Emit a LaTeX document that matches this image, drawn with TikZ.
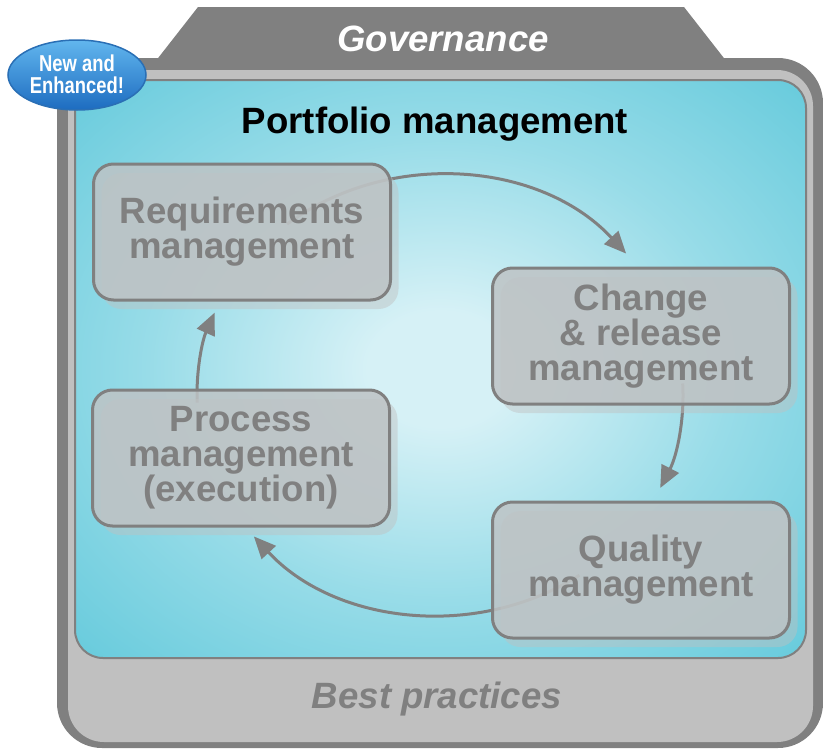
\documentclass[tikz,border=0pt]{standalone}
\usepackage{fontspec}
\setmainfont{Liberation Sans}
\usetikzlibrary{calc,arrows.meta,shadows}
\definecolor{dgray}{HTML}{808080}
\definecolor{lgray}{HTML}{C0C0C0}
\definecolor{pcen}{HTML}{D6F1F6}
\definecolor{pmid}{HTML}{98DCE8}
\definecolor{pedge}{HTML}{62C9DB}
\definecolor{boxfill}{HTML}{BEC3C5}
\definecolor{badgetop}{HTML}{62B6EE}
\definecolor{badgebot}{HTML}{1D6CC0}
\definecolor{badgeline}{HTML}{2A6FB5}
\pgfdeclareradialshading{panelshade}{\pgfpoint{0bp}{0bp}}{color(0bp)=(pcen); color(5bp)=(pcen); color(20bp)=(pmid); color(37bp)=(pedge); color(50bp)=(pedge)}
\tikzset{
  mbox/.style={rectangle, rounded corners=20pt, minimum width=297pt, minimum height=136pt,
    draw=dgray, line width=3pt, fill=boxfill, fill opacity=0.85, text opacity=1,
    text=dgray, align=center, font=\bfseries\fontsize{36.6}{35}\selectfont,
    drop shadow={shadow xshift=8pt, shadow yshift=-9pt, fill=lgray, opacity=0.45}},
  cycarrow/.style={draw=dgray, line width=3pt, -{Triangle[length=22pt,width=19pt]}},
  bigtext/.style={font=\bfseries\itshape\fontsize{36.6}{36}\selectfont}
}
\begin{document}
\begin{tikzpicture}[x=1pt,y=-1pt]
\useasboundingbox (0,0) rectangle (823,750);
% outer frame
\fill[dgray] (155,62) -- (198,7) -- (684,7) -- (727,62) -- cycle;
\fill[dgray, rounded corners=45pt] (57,58) rectangle (823,748);
\fill[lgray, rounded corners=36pt] (68,70) rectangle (813,742);
% blue panel
\shade[shading=panelshade, rounded corners=28pt] (75,80) rectangle (806,658);
\draw[dgray, line width=2pt, rounded corners=28pt] (75,80) rectangle (806,658);
\node[bigtext, text=white] (gov) at (443,39) {Governance};
\node[bigtext, text=dgray] (best) at (437,699) {Best practices};
\node[font=\bfseries\fontsize{36.6}{36}\selectfont, text=black] (port) at (435,124) {Portfolio management};
% cycle arcs
\coordinate (cyc) at (440,395);
\coordinate (a1) at ($(cyc)+(-129:243 and 220)$);
\coordinate (a2) at ($(cyc)+(-3:243 and 220)$);
\coordinate (a3) at ($(cyc)+(55:243 and 220)$);
\coordinate (a4) at ($(cyc)+(178:243 and 220)$);
\draw[cycarrow] (a1) arc[start angle=-129, end angle=-40, x radius=243, y radius=220];
\draw[cycarrow] (a2) arc[start angle=-3, end angle=25, x radius=243, y radius=220];
\draw[cycarrow] (a3) arc[start angle=55, end angle=140, x radius=243, y radius=220];
\draw[cycarrow] (a4) arc[start angle=178, end angle=202, x radius=243, y radius=220];
% boxes
\node[mbox] (req) at (242,232) {Requirements\\management};
\node[mbox] (chg) at (641,336) {Change\\\& release\\management};
\node[mbox] (proc) at (241,458) {Process\\management\\(execution)};
\node[mbox] (qual) at (641,570) {Quality\\management};
% badge
\shade[top color=badgetop, bottom color=badgebot, draw=badgeline, line width=1.5pt] (77,75) ellipse [x radius=69, y radius=35];
\node[text=white, align=center, font=\bfseries\fontsize{23}{22}\selectfont] (badge) at (77,74)
  {\scalebox{0.8}[1]{New and}\\\scalebox{0.8}[1]{Enhanced!}};
\end{tikzpicture}
\end{document}
